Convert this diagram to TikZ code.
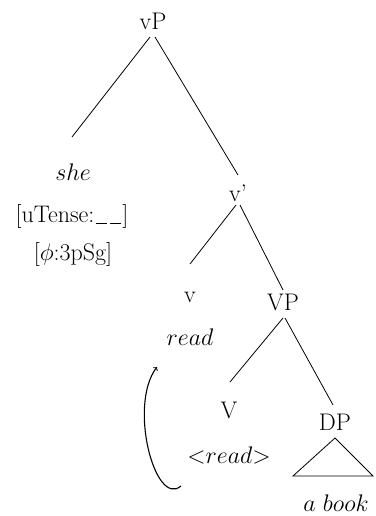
\RequirePackage{fix-cm}
\documentclass[tikz,border=0pt]{standalone}
\newcommand{\blank}{\rule[-1.5pt]{11pt}{0.9pt}\hspace{3pt}\rule[-1.5pt]{11pt}{0.9pt}}
\begin{document}
\begin{tikzpicture}[x=1pt,y=-1pt,
  lbl/.style={inner sep=0pt,font=\fontsize{24}{28}\selectfont},
  edge/.style={line width=0.8pt},
  mv/.style={line width=1.1pt,->}]
\useasboundingbox (0,0) rectangle (375,516);
\node[lbl] (vP) at (153,21) {vP};
\node[lbl] (she) at (73,172) {$she$};
\node[lbl] (ut) at (72,216) {[uTense:\hspace{2pt}\blank\hspace{1pt}]};
\node[lbl] (phi) at (73,254) {[$\phi$:3pSg]};
\node[lbl] (vbar) at (238,193) {v'};
\node[lbl] (v) at (190,297) {v};
\node[lbl] (read) at (190,337) {$read$};
\node[lbl] (VP) at (283,302) {VP};
\node[lbl] (V) at (229,410) {V};
\node[lbl] (Vread) at (229,455) {${<}read{>}$};
\node[lbl] (DP) at (335,422) {DP};
\node[lbl] (book) at (336,503) {$a~book$};
\draw[edge] ([shift={(-3,16)}]vP.center) -- ([shift={(-1,-35)}]she.center);
\draw[edge] ([shift={(2,16)}]vP.center) -- ([shift={(0,-18)}]vbar.center);
\draw[edge] ([shift={(-2,12)}]vbar.center) -- ([shift={(0,-33)}]v.center);
\draw[edge] ([shift={(2,12)}]vbar.center) -- ([shift={(0,-12)}]VP.center);
\draw[edge] ([shift={(0,16)}]VP.center) -- ([shift={(1,-28)}]V.center);
\draw[edge] ([shift={(2,16)}]VP.center) -- ([shift={(-2,-17)}]DP.center);
\draw[edge] ([shift={(0,16)}]DP.center) -- ([shift={(-42,54)}]DP.center) -- ([shift={(38,54)}]DP.center) -- cycle;
\draw[mv] ([shift={(-48,31)}]Vread.center) .. controls (155,508) and (128,405) .. ([shift={(-33,30)}]read.center);
\end{tikzpicture}
\end{document}
